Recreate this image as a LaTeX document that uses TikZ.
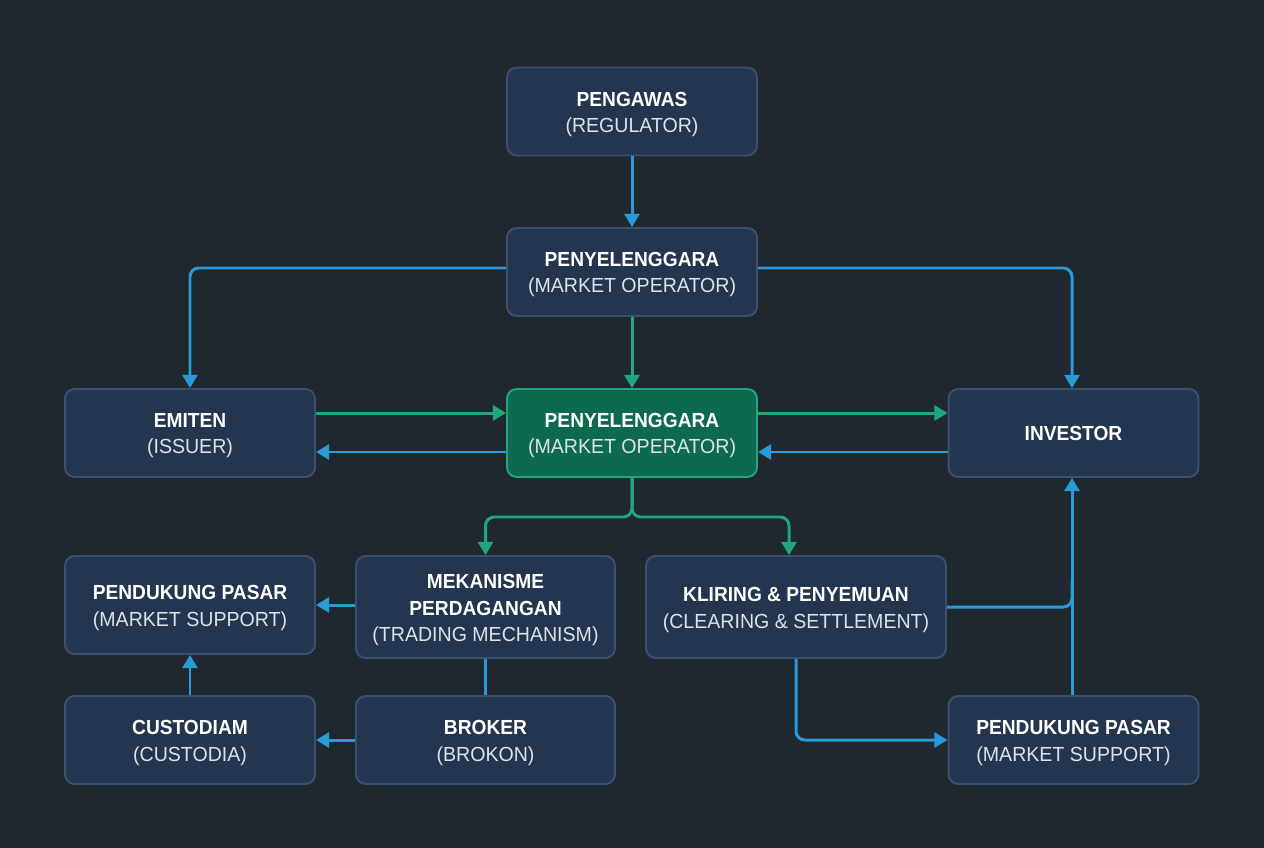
\documentclass[tikz,border=0pt]{standalone}
\usepackage{fontspec}
\setmainfont[FakeStretch=0.96,BoldFeatures={FakeStretch=0.94}]{Liberation Sans}
\usetikzlibrary{arrows.meta}
\definecolor{BGC}{HTML}{1F272F}
\definecolor{BXF}{HTML}{24364F}
\definecolor{BXD}{HTML}{3A5070}
\definecolor{GRF}{HTML}{0E6A4E}
\definecolor{GRD}{HTML}{1FA880}
\definecolor{BLU}{HTML}{2A9BD8}
\definecolor{SUB}{HTML}{DCE3EA}
\newcommand{\TL}[1]{\rule{0pt}{11.5pt}\textbf{#1}}
\newcommand{\SL}[1]{\textcolor{SUB}{#1}}
\tikzset{
    BX1/.style ={rectangle,rounded corners=5.5pt,minimum width = 5cm, minimum height = 1.76cm, draw=BXD, fill=BXF, line width=1.1pt, text=white, align=center, font=\fontsize{11.6}{14.8}\selectfont},
    BX2/.style ={BX1, draw=GRD, fill=GRF},
    BX3/.style ={BX1, minimum width = 5.18cm, minimum height = 2.04cm},
    LB/.style ={draw=BLU, line width=1.7pt, rounded corners=5pt},
    LG/.style ={draw=GRD, line width=1.7pt, rounded corners=5pt},
    AB/.style ={LB, -{Triangle[length=7.5pt,width=8.5pt]}},
    AG/.style ={LG, -{Triangle[length=7.5pt,width=8.5pt]}}}

\begin{document}
\begin{tikzpicture}[x=0.02cm,y=-0.02cm]
        \fill[BGC] (0,0) rectangle (1264,848);
        \useasboundingbox (0,0) rectangle (1264,848);
        \node[BX1] (1) at(632,111.5){\TL{PENGAWAS}\\\SL{(REGULATOR)}};
        \node[BX1] (2) at(632,272){\TL{PENYELENGGARA}\\\SL{(MARKET OPERATOR)}};
        \node[BX1] (3) at(190,433){\TL{EMITEN}\\\SL{(ISSUER)}};
        \node[BX2] (4) at(632,433){\TL{PENYELENGGARA}\\\SL{(MARKET OPERATOR)}};
        \node[BX1] (5) at(1073.5,433){\textbf{INVESTOR}};
        \node[BX1,minimum height=1.96cm] (6) at(190,605){\TL{PENDUKUNG PASAR}\\\SL{(MARKET SUPPORT)}};
        \node[BX3] (7) at(485.5,607){\TL{MEKANISME}\\\textbf{PERDAGANGAN}\\\SL{(TRADING MECHANISM)}};
        \node[BX3,minimum width=6cm] (8) at(796,607){\TL{KLIRING \& PENYEMUAN}\\\SL{(CLEARING \& SETTLEMENT)}};
        \node[BX1] (9) at(190,740){\TL{CUSTODIAM}\\\SL{(CUSTODIA)}};
        \node[BX3,minimum height=1.76cm] (10) at(485.5,740){\TL{BROKER}\\\SL{(BROKON)}};
        \node[BX1] (11) at(1073.5,740){\TL{PENDUKUNG PASAR}\\\SL{(MARKET SUPPORT)}};
        \coordinate (J1) at(485.5,517);
        \coordinate (J2) at(789,517);
        \coordinate (J3) at(1072,580);
        \draw[AB] (1) --(2);
        \draw[AB] ([yshift=0.08cm]2.west) -| (3.north);
        \draw[AB] ([yshift=0.08cm]2.east) -| ([xshift=-0.03cm]5.north);
        \draw[AG] (2) --(4);
        \draw[AG] ([yshift=0.4cm]3.east) --([yshift=0.4cm]4.west);
        \draw[AB] ([yshift=-0.38cm]4.west) --([yshift=-0.38cm]3.east);
        \draw[AG] ([yshift=0.4cm]4.east) --([yshift=0.4cm]5.west);
        \draw[AB] ([yshift=-0.38cm]5.west) --([yshift=-0.38cm]4.east);
        \draw[AG] (4.south) |- (J1) --(7.north);
        \draw[AG] (4.south) |- (J2) --(J2 |- 8.north);
        \draw[AB] (6.east -| 7.west) --(6.east);
        \draw[LB] (7.south) --(10.north);
        \draw[AB] (10.west) --(9.east);
        \draw[AB] (9.north) --(6.south);
        \draw[LB] (8.east) -| (J3);
        \draw[AB] ([xshift=-0.03cm]11.north) --([xshift=-0.03cm]5.south);
        \draw[AB] (8.south) |- (11.west);
    \end{tikzpicture}
\end{document}
